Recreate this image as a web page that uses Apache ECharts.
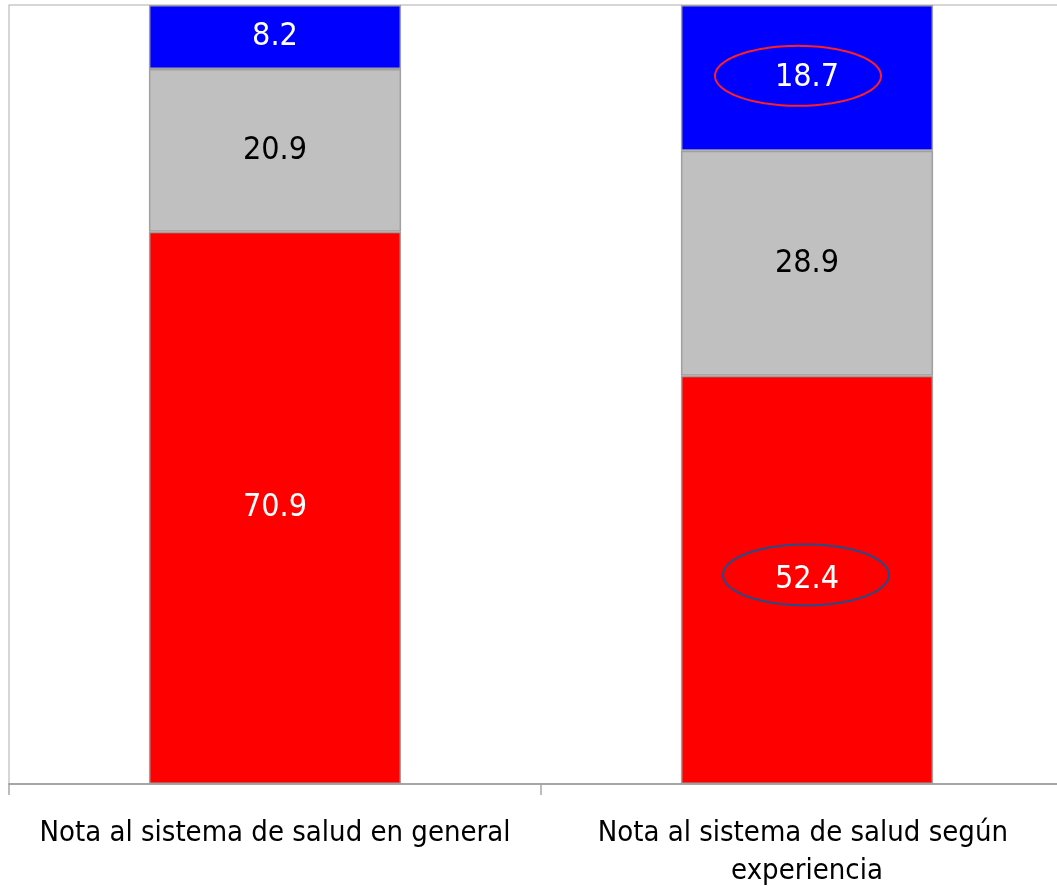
<!DOCTYPE html>
<html>
<head>
<meta charset="utf-8">
<script src="https://cdn.jsdelivr.net/npm/echarts@6/dist/echarts.min.js"></script>
<style>html,body{margin:0;padding:0;background:#fff}#c{width:1057px;height:886px}</style>
</head>
<body>
<div id="c"></div>
<script>
const categories = ['Nota al sistema de salud en general', 'Nota al sistema de salud según experiencia'];
const seriesNames = ['Notas 1 a 4', 'Nota 5', 'Notas 6 y 7'];
const redValues = [70.9, 52.4];
const greyValues = [20.9, 28.9];
const blueValues = [8.2, 18.7];
const yTicks = [0, 100];

const FONT = '"DejaVu Sans Condensed", "DejaVu Sans", sans-serif';
const chart = echarts.init(document.getElementById('c'), null, {renderer: 'canvas'});

function mkSeries(name, data, color, labelColor) {
  return {
    name: name, type: 'bar', stack: 'total', data: data,
    barWidth: '47.4%',
    itemStyle: {color: color, borderColor: '#a0a0a0', borderWidth: 1.5},
    label: {show: true, position: 'inside', color: labelColor, fontFamily: FONT, fontSize: 32,
            formatter: p => p.value.toFixed(1)},
    emphasis: {disabled: true}
  };
}

chart.setOption({
  animation: false,
  grid: {left: 9, top: 5, right: -16, bottom: 102, containLabel: false, outerBoundsMode: 'none'},
  xAxis: {
    type: 'category', data: categories,
    axisLine: {lineStyle: {color: '#a6a6a6', width: 2}},
    axisTick: {show: true, length: 11, lineStyle: {color: '#a6a6a6', width: 1.5}},
    axisLabel: {color: '#000', fontFamily: FONT, fontSize: 29, margin: 30, lineHeight: 38,
                width: 500, overflow: 'break', interval: 0}
  },
  yAxis: {
    type: 'value', min: yTicks[0], max: yTicks[1], interval: 100,
    axisLine: {show: true, lineStyle: {color: '#c8c8c8', width: 1.5}},
    axisTick: {show: false}, axisLabel: {show: false},
    splitLine: {show: true, lineStyle: {color: '#c8c8c8', width: 1.5}}
  },
  series: [
    mkSeries(seriesNames[0], redValues, '#ff0000', '#ffffff'),
    mkSeries(seriesNames[1], greyValues, '#c0c0c0', '#000000'),
    mkSeries(seriesNames[2], blueValues, '#0000ff', '#ffffff')
  ]
});

// Annotation ellipses around the highlighted labels of the second bar
function ellipsePoints(cx, cy, rx, ry) {
  const pts = [];
  for (let i = 0; i < 120; i++) {
    const a = i / 120 * Math.PI * 2;
    pts.push([cx + rx * Math.cos(a), cy + ry * Math.sin(a)]);
  }
  return pts;
}
const idx = 1;
const pBlue = chart.convertToPixel({seriesIndex: 2}, [idx, redValues[idx] + greyValues[idx] + blueValues[idx] / 2]);
const pRed = chart.convertToPixel({seriesIndex: 0}, [idx, redValues[idx] / 2]);
chart.setOption({
  graphic: [
    {type: 'polygon', shape: {points: ellipsePoints(pBlue[0] - 9, pBlue[1] - 2, 83, 30)},
     style: {fill: 'none', stroke: '#ff2020', lineWidth: 2}, silent: true, z: 100},
    {type: 'polygon', shape: {points: ellipsePoints(pRed[0] - 1, pRed[1] - 5, 83, 30.5)},
     style: {fill: 'none', stroke: '#1f4e8c', lineWidth: 2}, silent: true, z: 100}
  ]
});
</script>
</body>
</html>
